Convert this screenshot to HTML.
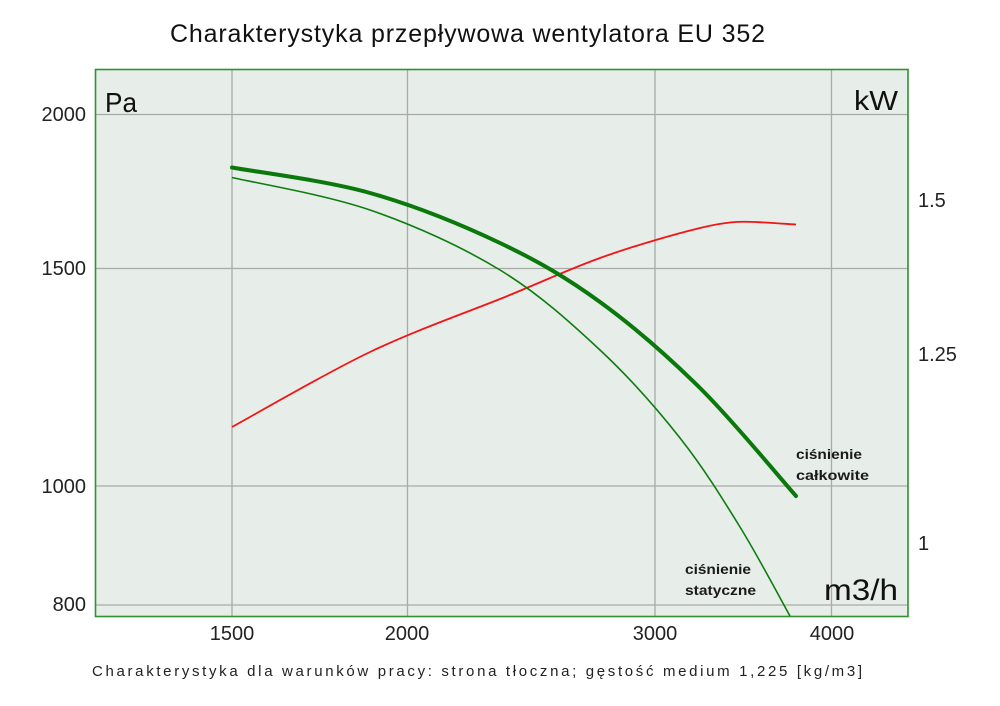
<!DOCTYPE html>
<html>
<head>
<meta charset="utf-8">
<style>
html,body{margin:0;padding:0;background:#ffffff;}
svg{display:block;}
text{font-family:"Liberation Sans",sans-serif;}
</style>
</head>
<body>
<svg width="1000" height="706" viewBox="0 0 1000 706" xmlns="http://www.w3.org/2000/svg">
<rect x="0" y="0" width="1000" height="706" fill="#ffffff"/>
<!-- title -->
<text x="170" y="42" font-size="25" fill="#111" textLength="595" lengthAdjust="spacing">Charakterystyka przepływowa wentylatora EU 352</text>

<!-- plot area -->
<rect x="95.5" y="69.5" width="812.5" height="547" fill="#e7ede9"/>
<!-- grid -->
<g stroke="#a9aba9" stroke-width="1.3">
<line x1="232" y1="70" x2="232" y2="616"/>
<line x1="407.5" y1="70" x2="407.5" y2="616"/>
<line x1="655" y1="70" x2="655" y2="616"/>
<line x1="831.5" y1="70" x2="831.5" y2="616"/>
<line x1="96" y1="114.5" x2="908" y2="114.5"/>
<line x1="96" y1="268.5" x2="908" y2="268.5"/>
<line x1="96" y1="486" x2="908" y2="486"/>
<line x1="96" y1="605" x2="908" y2="605"/>
</g>
<rect x="95.5" y="69.5" width="812.5" height="547" fill="none" stroke="#2e922e" stroke-width="1.6"/>

<!-- curves -->
<path fill="none" stroke="#f21515" stroke-width="1.8" d="M232,427 C255,414.5 325.3,373.3 370,352 C414.7,330.7 461.7,314.3 500,299 C538.3,283.7 566.7,270 600,258 C633.3,246 674.2,234.3 700,228 C725.8,221.7 739,221.25 755,222 C771,222.75 789.2,224.1 796,224.5"/>
<path fill="none" stroke="#0d7d0d" stroke-width="1.6" d="M232,177.5 C255,182.9 325.3,194.6 370,210 C414.7,225.4 461.7,246.7 500,270 C538.3,293.3 570,322 600,350 C630,378 656.7,408.5 680,438 C703.3,467.5 721.7,497.3 740,527 C758.3,556.7 781.7,601.2 790,616"/>
<path fill="none" stroke="#0a780a" stroke-width="4" stroke-linecap="round" d="M232,167.5 C255,171.75 325.3,180.4 370,193 C414.7,205.6 461.7,224.8 500,243 C538.3,261.2 566.7,277.8 600,302 C633.3,326.2 667.3,355.7 700,388 C732.7,420.3 780,478 796,496"/>

<!-- axis unit labels -->
<text x="105" y="112" font-size="28" fill="#111" textLength="32" lengthAdjust="spacingAndGlyphs">Pa</text>
<text x="854" y="110" font-size="28" fill="#111" textLength="44" lengthAdjust="spacingAndGlyphs">kW</text>
<text x="824" y="600" font-size="30" fill="#111" textLength="74" lengthAdjust="spacingAndGlyphs">m3/h</text>

<!-- curve labels -->
<g font-size="14" font-weight="bold" fill="#1a1a1a">
<text x="796" y="459" textLength="66" lengthAdjust="spacingAndGlyphs">ciśnienie</text>
<text x="796" y="480" textLength="73" lengthAdjust="spacingAndGlyphs">całkowite</text>
<text x="685" y="574" textLength="66" lengthAdjust="spacingAndGlyphs">ciśnienie</text>
<text x="685" y="595" textLength="71" lengthAdjust="spacingAndGlyphs">statyczne</text>
</g>

<!-- left ticks -->
<g font-size="20" fill="#222" text-anchor="end">
<text x="86" y="121">2000</text>
<text x="86" y="275">1500</text>
<text x="86" y="493">1000</text>
<text x="86" y="611">800</text>
</g>
<!-- right ticks -->
<g font-size="20" fill="#222">
<text x="918" y="207">1.5</text>
<text x="918" y="361">1.25</text>
<text x="918" y="550">1</text>
</g>
<!-- bottom ticks -->
<g font-size="20" fill="#222" text-anchor="middle">
<text x="232" y="640">1500</text>
<text x="407" y="640">2000</text>
<text x="655" y="640">3000</text>
<text x="832" y="640">4000</text>
</g>

<!-- caption -->
<text x="92" y="676" font-size="15" fill="#222" textLength="770" lengthAdjust="spacing">Charakterystyka dla warunków pracy: strona tłoczna; gęstość medium 1,225 [kg/m3]</text>
</svg>
</body>
</html>
